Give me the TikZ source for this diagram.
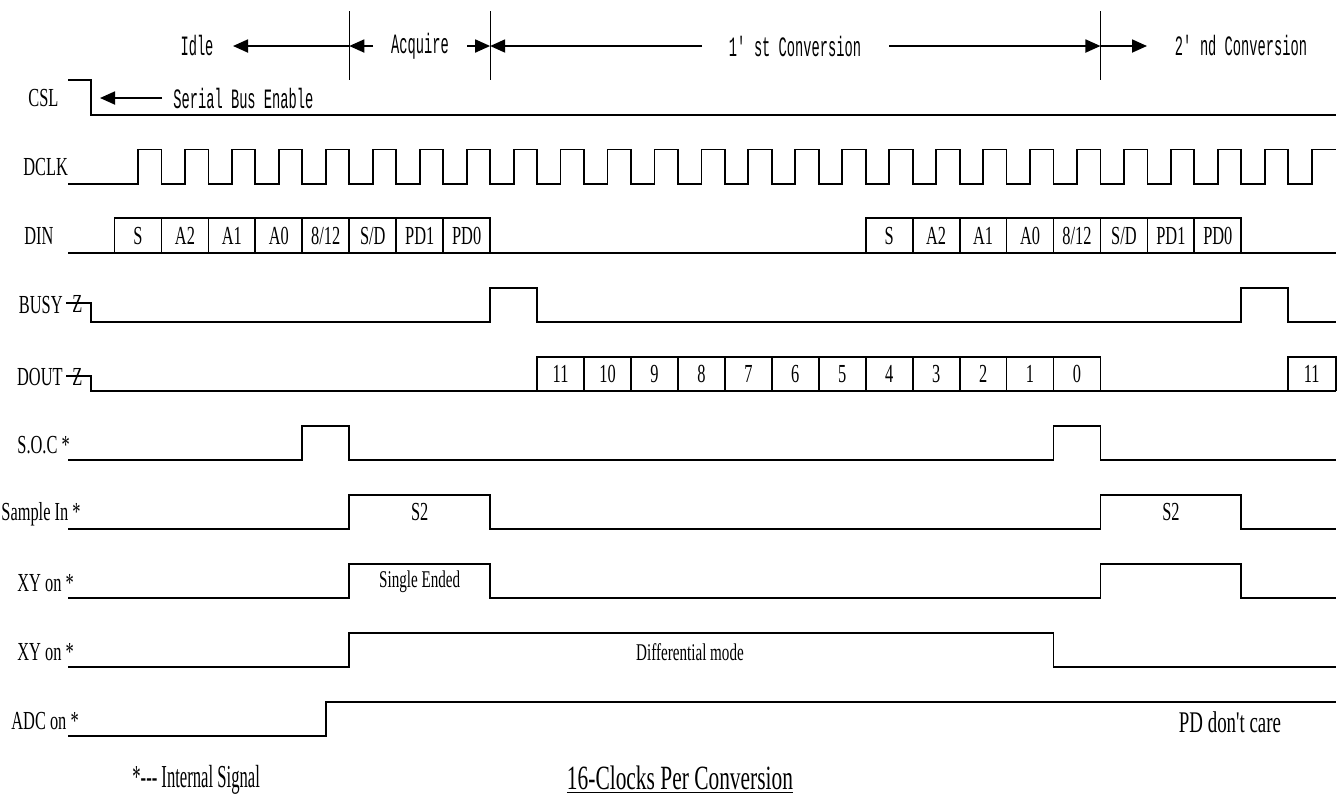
\documentclass[tikz,border=0pt]{standalone}
\usepackage{fontspec}
\newfontfamily\sigfont[FakeStretch=0.63]{Liberation Serif}
\newfontfamily\legendfont[FakeStretch=0.52]{Liberation Serif}
\newfontfamily\phasefont[FakeStretch=0.49]{Liberation Mono}
\usetikzlibrary{arrows.meta,positioning}

\begin{document}
\begin{tikzpicture}[x=0.5pt,y=-0.5pt,
  declare function={ck(\n)=138+\n*46.95;},
  wave/.style={line width=0.9pt,line join=miter},
  sig/.style={font=\fontsize{13}{13}\sigfont,anchor=west,inner sep=0pt},
  bit/.style={font=\fontsize{13}{13}\sigfont,inner sep=0pt},
  note/.style={font=\fontsize{12}{12}\sigfont,inner sep=0pt},
  phase/.style={font=\fontsize{14}{14}\phasefont,inner sep=0pt},
  phaseline/.style={line width=0.5pt},
  dimarrow/.style={-{Triangle[length=7.5pt,width=6.5pt]},line width=0.9pt}
]
  \useasboundingbox (0,0) rectangle (1342,805);

  % phases
  \coordinate (acq) at ({ck(4.5)},46);
  \coordinate (conv) at ({ck(7.5)},46);
  \coordinate (conv2) at ({ck(20.5)},46);
  \foreach \c in {acq,conv,conv2}
    \draw[phaseline] (\c) ++(0,-35) -- ++(0,69);
  \node[phase] (idle) at (197,46) {Idle};
  \node[phase] (acquire) at (420,46) {Acquire};
  \node[phase] (first) at (795,46) {1\textquotesingle st Conversion};
  \node[phase] (second) at (1241,46) {2\textquotesingle nd Conversion};
  \coordinate (idletip) at (233,46);
  \coordinate (acqtail) at (373,46);
  \coordinate (convtail) at (467,46);
  \coordinate (firsttail) at (702,46);
  \coordinate (secondtail) at (889,46);
  \coordinate (secondtip) at (1147,46);
  \draw[dimarrow] (acq) -- (idletip);
  \draw[dimarrow] (acqtail) -- (acq);
  \draw[dimarrow] (convtail) -- (conv);
  \draw[dimarrow] (firsttail) -- (conv);
  \draw[dimarrow] (secondtail) -- (conv2);
  \draw[dimarrow] (conv2) -- (secondtip);

  % CSL
  \node[sig] (csl) at (28,98) {CSL};
  \draw[wave] (68,80) -- (90.7,80) -- (90.7,115) -- (1336,115);
  \coordinate (sbtip) at (100,98);
  \node[phase,anchor=west] (sbe) at (173,98) {Serial Bus Enable};
  \draw[dimarrow] (162,98) -- (sbtip);

  % DCLK
  \node[sig] (dclk) at (23,167) {DCLK};
  \draw[wave] (68,184) foreach \k in {0,...,24}{
      -- ({ck(\k)},184) -- ({ck(\k)},149.5) -- ({ck(\k+0.5)},149.5) -- ({ck(\k+0.5)},184)}
    -- ({ck(25)},184) -- ({ck(25)},149.5) -- (1336,149.5);

  % DIN
  \node[sig] (din) at (24,236) {DIN};
  \draw[wave] (68,253) -- (1336,253);
  \foreach \s in {0,16}{
    \draw[wave] ({ck(\s-0.5)},253) -- ({ck(\s-0.5)},218) -- ({ck(\s+7.5)},218) -- ({ck(\s+7.5)},253);
    \foreach \b [count=\i from 0] in {S,A2,A1,A0,8/12,S/D,PD1,PD0}{
      \ifnum\i>0 \draw[wave] ({ck(\s+\i-0.5)},218) -- ({ck(\s+\i-0.5)},253);\fi
      \node[bit] at ({ck(\s+\i)},236) {\b};
    }
  }

  % BUSY
  \node[sig,anchor=east] (busy) at (63,305) {BUSY};
  \node[bit] (busyz) at (77.5,304) {Z};
  \draw[wave] (66,303) -- (91,303) -- (91,322) -- ({ck(7.5)},322) -- ({ck(7.5)},288)
    -- ({ck(8.5)},288) -- ({ck(8.5)},322) -- ({ck(23.5)},322) -- ({ck(23.5)},288)
    -- ({ck(24.5)},288) -- ({ck(24.5)},322) -- (1336,322);

  % DOUT
  \node[sig,anchor=east] (dout) at (63,377) {DOUT};
  \node[bit] (doutz) at (77.5,377) {Z};
  \draw[wave] (66,376) -- (91,376) -- (91,391) -- (1336,391);
  \draw[wave] ({ck(8.5)},391) -- ({ck(8.5)},357) -- ({ck(20.5)},357) -- ({ck(20.5)},391);
  \foreach \b [count=\i from 9] in {11,10,9,8,7,6,5,4,3,2,1,0}{
    \ifnum\i>9 \draw[wave] ({ck(\i-0.5)},357) -- ({ck(\i-0.5)},391);\fi
    \node[bit] at ({ck(\i)},374) {\b};
  }
  \draw[wave] ({ck(24.5)},391) -- ({ck(24.5)},357) -- (1336,357) -- (1336,391);
  \node[bit] at ({ck(25)},374) {11};

  % S.O.C
  \node[sig] (soc) at (17,445) {S.O.C *};
  \draw[wave] (68,460) -- ({ck(3.5)},460) -- ({ck(3.5)},426) -- ({ck(4.5)},426) -- ({ck(4.5)},460)
    -- ({ck(19.5)},460) -- ({ck(19.5)},426) -- ({ck(20.5)},426) -- ({ck(20.5)},460) -- (1336,460);

  % Sample In
  \node[sig] (sample) at (1,514) {Sample In *};
  \draw[wave] (68,529) -- ({ck(4.5)},529) -- ({ck(4.5)},495) -- ({ck(7.5)},495) -- ({ck(7.5)},529)
    -- ({ck(20.5)},529) -- ({ck(20.5)},495) -- ({ck(23.5)},495) -- ({ck(23.5)},529) -- (1336,529);
  \node[bit] at ({ck(6)},512) {S2};
  \node[bit] at ({ck(22)},512) {S2};

  % XY on, single ended
  \node[sig] (xyse) at (17,583) {XY on *};
  \draw[wave] (68,598) -- ({ck(4.5)},598) -- ({ck(4.5)},564) -- ({ck(7.5)},564) -- ({ck(7.5)},598)
    -- ({ck(20.5)},598) -- ({ck(20.5)},564) -- ({ck(23.5)},564) -- ({ck(23.5)},598) -- (1336,598);
  \node[note] at ({ck(6)},582) {Single Ended};

  % XY on, differential
  \node[sig] (xydiff) at (17,652) {XY on *};
  \draw[wave] (68,667) -- ({ck(4.5)},667) -- ({ck(4.5)},633) -- ({ck(19.5)},633) -- ({ck(19.5)},667) -- (1336,667);
  \node[note] at (690,652) {Differential mode};

  % ADC on
  \node[sig] (adc) at (11,721) {ADC on *};
  \draw[wave] (68,736) -- ({ck(4)},736) -- ({ck(4)},702) -- (1336,702);
  \node[bit,font=\fontsize{15}{15}\sigfont] at (1230,722) {PD don't care};

  % legend
  \node[sig,font=\fontsize{16}{16}\legendfont] (legend) at (132,780) {*-{}-{}- Internal Signal};
  \node[bit,font=\fontsize{17}{17}\sigfont] (title) at (680,780) {\underline{16-Clocks Per Conversion}};
\end{tikzpicture}
\end{document}
